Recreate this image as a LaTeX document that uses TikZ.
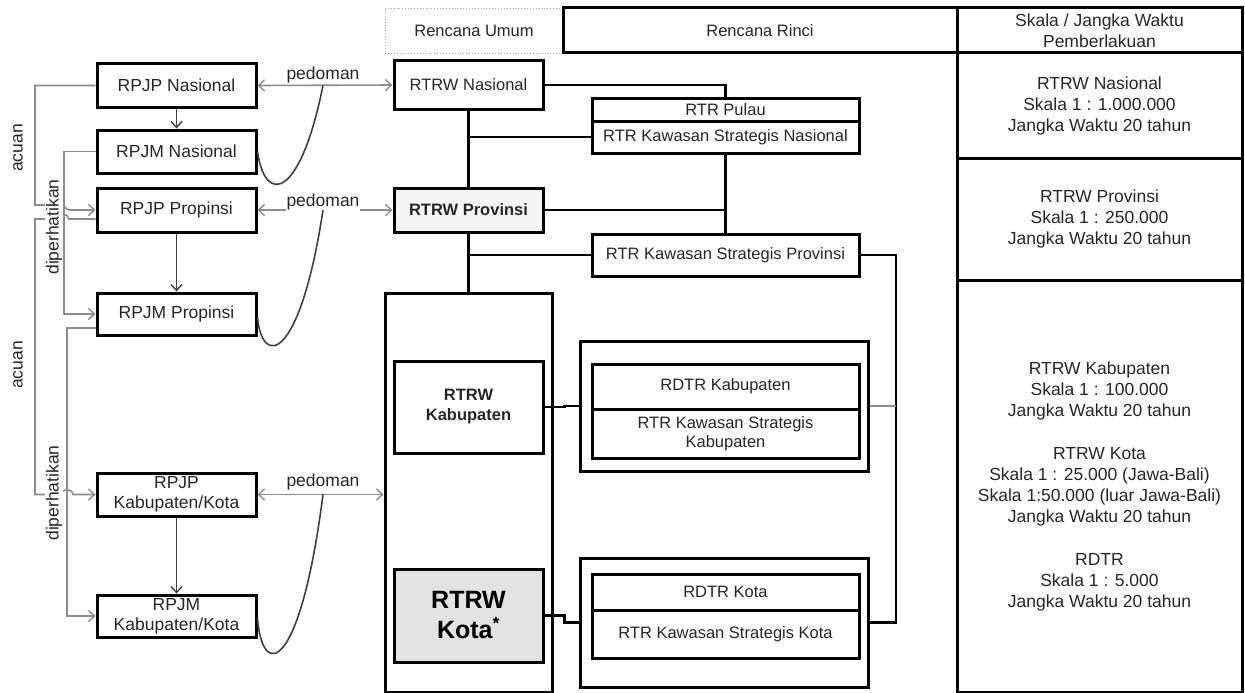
\documentclass[tikz,border=0pt]{standalone}
\usepackage{fontspec}
\setmainfont{Liberation Sans}
\usetikzlibrary{arrows.meta,calc}
\begin{document}
\begin{tikzpicture}[x=1pt,y=-1pt,
  txt/.style={text=black!85},
  box/.style={draw=black,line width=3pt,inner sep=0pt,align=center,txt,font=\fontsize{16.5}{20}\selectfont},
  lbox/.style={box,minimum width=159pt,minimum height=43pt,font=\fontsize{17.5}{20}\selectfont},
  mbox/.style={box,minimum width=149pt},
  rbox/.style={box,minimum width=267pt},
  sbox/.style={box,minimum width=285pt,font=\fontsize{17.5}{21}\selectfont},
  conn/.style={line width=2.7pt},
  gline/.style={draw=black!45,line width=1.6pt},
  arr/.style={-{Straight Barb[length=6pt,width=11pt,line width=1.4pt]}},
  ped/.style={draw=black!45,line width=1.6pt,{Straight Barb[length=6pt,width=11pt,line width=1.4pt]}-{Straight Barb[length=6pt,width=11pt,line width=1.4pt]}},
  darr/.style={draw=black!75,line width=1.5pt,arr},
  curve/.style={draw=black!75,line width=1.6pt},
  lab/.style={txt,font=\fontsize{17.5}{20}\selectfont,inner sep=1pt}
]
\useasboundingbox (0,0) rectangle (1245,693);
\fill[white] (0,0) rectangle (1245,693);

% header
\node[box,draw=black!35,line width=0.9pt,dotted,minimum width=178pt,minimum height=45pt] (umum) at (474,30.5) {Rencana Umum};
\node[box,minimum width=394pt,minimum height=45pt] (rinci) at (760,30.5) {Rencana Rinci};
\node[sbox,minimum height=45pt] (skh) at (1099.5,30.5) {Skala / Jangka Waktu\\Pemberlakuan};

% right column
\node[sbox,minimum height=105pt] (sk1) at (1099.5,105.5) {RTRW Nasional\\Skala 1 : 1.000.000\\Jangka Waktu 20 tahun};
\node[sbox,minimum height=122pt] (sk2) at (1099.5,219) {RTRW Provinsi\\Skala 1 : 250.000\\Jangka Waktu 20 tahun};
\node[sbox,minimum height=412pt] (sk3) at (1099.5,486) {RTRW Kabupaten\\Skala 1 : 100.000\\Jangka Waktu 20 tahun\\[22pt]RTRW Kota\\Skala 1 : 25.000 (Jawa-Bali)\\Skala 1:50.000 (luar Jawa-Bali)\\Jangka Waktu 20 tahun\\[22pt]RDTR\\Skala 1 : 5.000\\Jangka Waktu 20 tahun};

% left column
\node[lbox] (rpjpn) at (176.5,85.5) {RPJP Nasional};
\node[lbox] (rpjmn) at (176.5,151.5) {RPJM Nasional};
\node[lbox,minimum height=44pt] (rpjpp) at (176.5,210) {RPJP Propinsi};
\node[lbox,minimum height=42pt] (rpjmp) at (176.5,314) {RPJM Propinsi};
\node[lbox] (rpjpk) at (176.5,494.5) {RPJP\\Kabupaten/Kota};
\node[lbox,minimum height=42pt] (rpjmk) at (176.5,616) {RPJM\\Kabupaten/Kota};

% middle column
\node[mbox,minimum height=48pt] (rtrwn) at (468.5,85) {RTRW Nasional};
\node[mbox,minimum height=44pt,fill=black!4,font=\bfseries\fontsize{16.5}{20}\selectfont] (rtrwp) at (468.5,210) {RTRW Provinsi};
\node[box,minimum width=167pt,minimum height=399pt] (big) at (468.5,492.5) {};
\node[mbox,minimum height=92pt,font=\bfseries\fontsize{16.5}{20}\selectfont] (rtrwkab) at (468.5,407) {RTRW\\Kabupaten};
\node[mbox,minimum height=93pt,fill=black!11,text=black,font=\bfseries\fontsize{25}{30}\selectfont] (rtrwkota) at (468.5,615.5) {RTRW\\Kota\textsuperscript{*}};

\node[rbox,minimum height=23pt] (pulau) at (725.5,109.5) {RTR Pulau};
\node[rbox,minimum height=32pt] (ksn) at (725.5,137) {RTR Kawasan Strategis Nasional};
\node[rbox,minimum height=42pt] (ksp) at (725.5,255) {RTR Kawasan Strategis Provinsi};

\node[box,minimum width=288pt,minimum height=130pt] (kabgrp) at (724,406) {};
\node[rbox,minimum height=45pt] (rdtrkab) at (725.5,386.5) {RDTR Kabupaten};
\node[rbox,minimum height=49pt,font=\fontsize{16.5}{19}\selectfont] (kskab) at (725.5,433.5) {RTR Kawasan Strategis\\Kabupaten};

\node[box,minimum width=288pt,minimum height=129pt] (kotagrp) at (724,622.5) {};
\node[rbox,minimum height=36pt] (rdtrkota) at (725.5,592) {RDTR Kota};
\node[rbox,minimum height=48pt] (kskota) at (725.5,634) {RTR Kawasan Strategis Kota};

% middle connectors
\draw[conn] (rtrwn.east) -| (pulau.north);
\draw[conn] (rtrwn.south) -- (rtrwp.north);
\draw[conn] (rtrwn.south |- ksn.west) -- (ksn.west);
\draw[conn] (ksn.south) -- (ksp.north);
\draw[conn] (rtrwp.east) -- (ksn.south |- rtrwp.east);
\draw[conn] (rtrwp.south) -- (big.north);
\draw[conn] (rtrwp.south |- ksp.west) -- (ksp.west);
\coordinate (kspr) at (896,255);
\draw[conn] (ksp.east) -- (kspr) |- (kotagrp.east);
\draw[draw=black!45,line width=1.6pt] (kspr |- kabgrp.east) -- (kabgrp.east);
\draw[conn] (rtrwkab.east) -- ++(20,0) |- (kabgrp.west);
\draw[conn] (rtrwkota.east) -- ++(20,0) |- (kotagrp.west);

% vertical arrows left
\draw[darr] (rpjpn.south) -- (rpjmn.north);
\draw[darr] (rpjpp.south) -- (rpjmp.north);
\draw[darr] (rpjpk.south) -- (rpjmk.north);

% pedoman
\draw[ped] (rpjpn.east) -- (rtrwn.west);
\draw[ped] (rpjpp.east) -- (rtrwp.west);
\draw[ped] (rpjpk.east) -- (big.west |- rpjpk.east);
\node[lab] (p1) at (323,75) {pedoman};
\node[lab,fill=white] (p2) at (323,202) {pedoman};
\node[lab] (p3) at (323,482) {pedoman};
\coordinate (c1) at (323,85.5);
\coordinate (c2) at (323,210);
\coordinate (c3) at (323,494.5);
\draw[curve] (rpjmn.east) .. controls (265,205) and (300,200) .. (c1);
\draw[curve] ($(rpjmp.east)+(0,3)$) .. controls (262,368) and (300,362) .. (c2);
\draw[curve] ($(rpjmk.east)+(0,2)$) .. controls (262,680) and (300,674) .. (c3);

% acuan / diperhatikan lines
\draw[gline,arr] (rpjpn.west) -- (35,85.5) -- (35,205) -- (60,205) .. controls (65,203) and (64,210) .. (70,210) -- (rpjpp.west);
\draw[gline,arr] ($(rpjpp.west)+(0,9)$) -- (69,219) .. controls (68,213) and (60,213) .. (59,219) -- (35,219) -- (35,494.5) -- (61,494.5) .. controls (62,488) and (72,488) .. (73,494.5) -- (rpjpk.west);
\draw[gline,arr] (rpjmn.west) -- (64,151.5) -- (64,314) -- (rpjmp.west);
\draw[gline,arr] ($(rpjmp.west)+(0,14)$) -- (67,328) -- (67,616) -- (rpjmk.west);

\node[lab,rotate=90,fill=white] (d1) at (54,227) {diperhatikan};
\node[lab,rotate=90,fill=white] (d2) at (54,493) {diperhatikan};
\node[lab,rotate=90] (a1) at (18,148) {acuan};
\node[lab,rotate=90] (a2) at (18,365) {acuan};
\end{tikzpicture}
\end{document}
